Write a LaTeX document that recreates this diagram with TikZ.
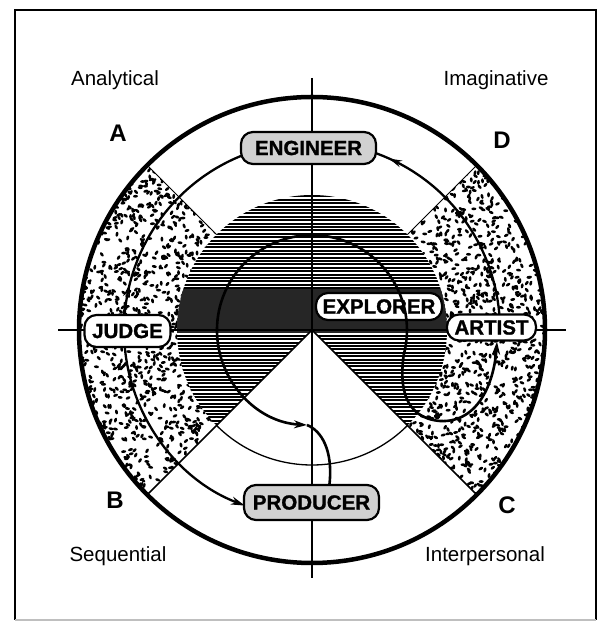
\documentclass[tikz,border=0pt]{standalone}
\usepackage{fontspec}
\setmainfont{Liberation Sans}
\newfontfamily\heavyfont[FakeBold=1.2]{Liberation Sans Bold}
\usetikzlibrary{arrows.meta,decorations.markings}
\begin{document}
\begin{tikzpicture}[x=1pt,y=1pt,
  lbl/.style={font=\fontsize{20.5}{24}\selectfont},
  quad/.style={font=\fontsize{24}{28}\selectfont\bfseries},
  pill/.style={draw=black,line width=2.2,rounded corners=12,font=\fontsize{20.5}{24}\heavyfont,inner sep=0pt},
  wpill/.style={pill,fill=white},
  gpill/.style={pill,fill=black!18},
  ring/.style={line width=2.3},
  flow/.style={line width=2.6},
  tipa/.style={postaction={decorate,decoration={markings,mark=at position #1 with {\arrow{Stealth[length=13pt,width=7pt]}}}}}
]
\useasboundingbox (0,0) rectangle (603,623);
\fill[white] (0,0) rectangle (603,623);

% stippled bands
\pgfmathsetseed{4242}
\begin{scope}
\clip (312,293) ++(135:233) arc[start angle=135,end angle=225,radius=233] -- ([shift={(312,293)}]225:135) arc[start angle=225,end angle=135,radius=135] -- cycle;
\begin{scope}[shift={(312,293)}]
\foreach \i in {1,...,900}{
  \pgfmathsetmacro\aa{130+100*rnd}
  \pgfmathsetmacro\rr{100*sqrt(1.7+rnd*(5.6-1.7))}
  \pgfmathsetmacro\ro{180*rnd}
  \fill[shift={(\aa:\rr)},rotate=\ro] (0,0) ellipse (2.5 and 1.4);
}
\end{scope}
\end{scope}
\begin{scope}
\clip (312,293) ++(-45:233) arc[start angle=-45,end angle=45,radius=233] -- ([shift={(312,293)}]45:135) arc[start angle=45,end angle=-45,radius=135] -- cycle;
\begin{scope}[shift={(312,293)}]
\foreach \i in {1,...,900}{
  \pgfmathsetmacro\aa{-50+100*rnd}
  \pgfmathsetmacro\rr{100*sqrt(1.7+rnd*(5.6-1.7))}
  \pgfmathsetmacro\ro{180*rnd}
  \fill[shift={(\aa:\rr)},rotate=\ro] (0,0) ellipse (2.5 and 1.4);
}
\end{scope}
\end{scope}

% hatched disc
\begin{scope}
\clip (312,293) -- ++(-45:135) arc[start angle=-45,end angle=225,radius=135] -- cycle;
\foreach \k in {0,...,80}{
  \draw[line width=2.1] (170,{158+3.4*\k}) -- (460,{158+3.4*\k});
}
\fill[black!85] (170,290) rectangle (460,334);
\end{scope}

% sector lines and circles
\draw[line width=1.5] (312,293) -- ++(225:233);
\draw[line width=1.5] (312,293) -- ++(315:233);
\draw[line width=1] ([shift={(312,293)}]45:135) -- ([shift={(312,293)}]45:233);
\draw[line width=1] ([shift={(312,293)}]135:135) -- ([shift={(312,293)}]135:233);
\draw[line width=1.3] (312,293) ++(225:135) arc[start angle=225,end angle=315,radius=135];
\draw[line width=4.5] (312,293) circle[radius=233];

% axes
\draw[line width=2] (312,545) -- (312,45);
\draw[line width=2] (58,293) -- (566,293);

% frame
\draw[line width=2.5] (15,3) -- (15,613) -- (596,613) -- (596,3);
\draw[line width=2,black!25] (15,3) -- (596,3);

% ring arcs
\draw[ring,tipa=0.15] (312,293) ++(175.4:188) arc[start angle=175.4,end angle=111.9,radius=188];
\draw[ring,tipa=0.93] (312,293) ++(4.6:188) arc[start angle=4.6,end angle=70.4,radius=188];
\draw[ring,-{Stealth[length=14pt,width=8pt]}] (312,293) ++(185.2:188) arc[start angle=185.2,end angle=249.1,radius=188];

% nodes
\node[gpill,minimum width=135,minimum height=32] (engineer) at (308.5,475) {ENGINEER};
\node[gpill,minimum width=135,minimum height=35] (producer) at (311.5,120.5) {PRODUCER};
\node[wpill,minimum width=86,minimum height=32] (judge) at (127.5,292) {JUDGE};
\node[wpill,minimum width=89,minimum height=26] (artist) at (491.5,295.5) {ARTIST};
\node[wpill,minimum width=126,minimum height=27] (explorer) at (379,316.5) {EXPLORER};

% inner flow
\coordinate (jn) at (307,198);
\draw[flow,{Stealth[length=13pt,width=8pt]}-{Stealth[length=13pt,width=8pt]}] (jn) arc[start angle=267,end angle=-15,radius=95] .. controls (399,235) and (405,205) .. (440,202) .. controls (478,200) and (494,240) .. (artist.south -| 497,0);
\draw[flow] ([xshift=18]producer.north) .. controls (333,172) and (322,192) .. (jn);

% labels
\node[lbl] (t1) at (115,543) {Analytical};
\node[lbl] (t2) at (496,543) {Imaginative};
\node[lbl] (t3) at (118,67) {Sequential};
\node[lbl] (t4) at (485,67) {Interpersonal};
\node[quad] (qa) at (118,490) {A};
\node[quad] (qd) at (502,483) {D};
\node[quad] (qb) at (115,123) {B};
\node[quad] (qc) at (507,118) {C};
\end{tikzpicture}
\end{document}
